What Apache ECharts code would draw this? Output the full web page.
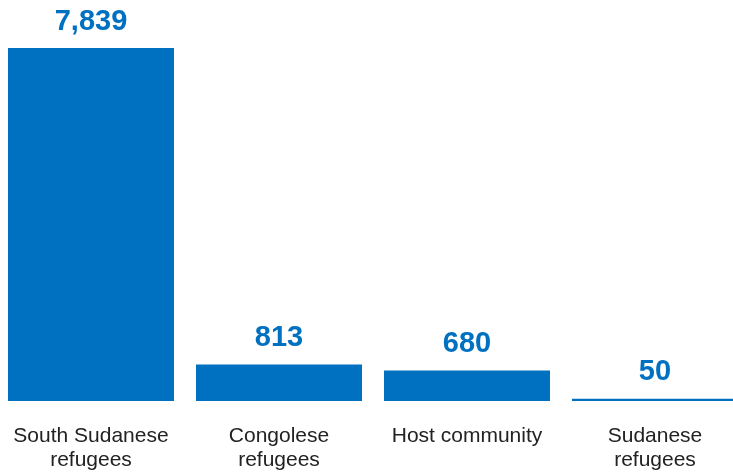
<!DOCTYPE html>
<html>
<head>
<meta charset="utf-8">
<script src="https://cdn.jsdelivr.net/npm/echarts@6/dist/echarts.min.js"></script>
<style>
  html, body { margin: 0; padding: 0; background: #ffffff; }
  #chart { width: 733px; height: 476px; }
</style>
</head>
<body>
<div id="chart"></div>
<script>
// Population groups and their counts
const categories = ['South Sudanese\nrefugees', 'Congolese\nrefugees', 'Host community', 'Sudanese\nrefugees'];
const values = [7839, 813, 680, 50];

const barColor = '#0070C0';

const chart = echarts.init(document.getElementById('chart'), null, { renderer: 'canvas' });

chart.setOption({
  animation: false,
  // the last bar runs past the right edge of the canvas
  grid: { left: -3, width: 752, top: 48, height: 353, containLabel: false, outerBoundsMode: 'none' },
  xAxis: {
    type: 'category',
    data: categories,
    axisLine: { show: false },
    axisTick: { show: false },
    axisLabel: {
      interval: 0,
      margin: 23,
      color: '#222222',
      fontFamily: 'Liberation Sans, Arial, sans-serif',
      fontSize: 21,
      lineHeight: 24
    }
  },
  yAxis: {
    type: 'value',
    min: 0,
    max: 7839,
    show: false,
    splitLine: { show: false }
  },
  series: [{
    type: 'bar',
    data: values,
    barWidth: 166,
    itemStyle: { color: barColor },
    label: {
      show: true,
      position: 'top',
      distance: 12,
      color: barColor,
      fontFamily: 'Liberation Sans, Arial, sans-serif',
      fontWeight: 'bold',
      fontSize: 29,
      formatter: p => p.value.toLocaleString('en-US')
    }
  }]
});
</script>
</body>
</html>
